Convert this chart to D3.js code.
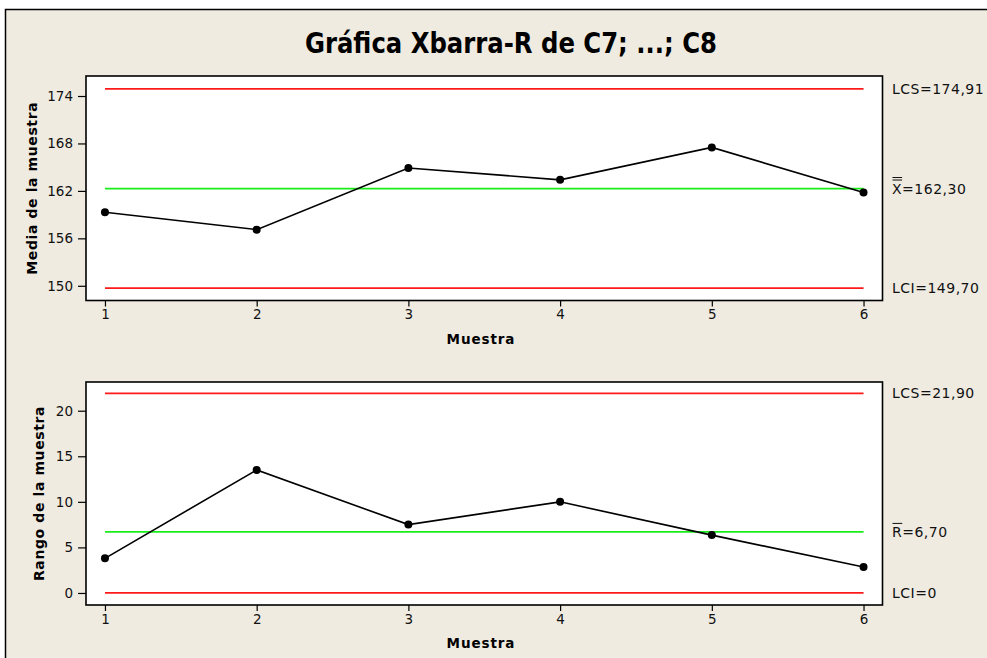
<!DOCTYPE html>
<html>
<head>
<meta charset="utf-8">
<script src="https://cdn.jsdelivr.net/npm/d3@7"></script>
<style>
  html, body { margin: 0; padding: 0; background: #ffffff; }
  svg { display: block; }
</style>
</head>
<body>
<svg id="chart" width="987" height="658"></svg>
<script>
// Subgroup numbers
const samples = [1, 2, 3, 4, 5, 6];
// Subgroup means (Xbar chart)
const means = [159.3, 157.1, 164.9, 163.4, 167.5, 161.8];
// Subgroup ranges (R chart)
const ranges = [3.8, 13.5, 7.5, 10.0, 6.35, 2.85];
// Control limits: [LCS, centre, LCI]
const xbarLimits = [174.91, 162.30, 149.70];
const rLimits = [21.90, 6.70, 0];
const xbarTicks = [150, 156, 162, 168, 174];
const rTicks = [0, 5, 10, 15, 20];
const xbarLimitLabels = ["LCS=174,91", "=162,30", "LCI=149,70"];
const rLimitLabels = ["LCS=21,90", "=6,70", "LCI=0"];

const svg = d3.select("#chart");
const FONT = "'DejaVu Sans', Verdana, sans-serif";
const BG = "#efebe1";

// page frame
svg.append("rect")
  .attr("x", 5.5).attr("y", 9.5).attr("width", 1000).attr("height", 700)
  .attr("fill", BG).attr("stroke", "#000").attr("stroke-width", 1.5);

svg.append("text")
  .attr("x", 511).attr("y", 53)
  .attr("text-anchor", "middle")
  .attr("font-family", "'Liberation Sans Narrow', 'DejaVu Sans Condensed', 'Liberation Sans', sans-serif")
  .attr("font-weight", "bold").attr("font-size", 29)
  .attr("textLength", 412).attr("lengthAdjust", "spacingAndGlyphs")
  .attr("fill", "#000")
  .text("Gráfica Xbarra-R de C7; ...; C8");

function panel(opts) {
  const { top, bottom, yDomain, ticks, values, limits, limitLabels, yLabel, yLabelX, barSymbol } = opts;
  const left = 86, right = 882.5;
  const x = d3.scaleLinear().domain([0.875, 6.125]).range([left, right]);
  const y = d3.scaleLinear().domain(yDomain).range([bottom, top]);
  const g = svg.append("g");

  g.append("rect")
    .attr("x", left).attr("y", top)
    .attr("width", right - left).attr("height", bottom - top)
    .attr("fill", "#fff").attr("stroke", "#000").attr("stroke-width", 1.6);

  // y axis
  const ya = g.append("g")
    .attr("transform", `translate(${left},0)`)
    .call(d3.axisLeft(y).tickValues(ticks).tickSize(8).tickPadding(5).tickSizeOuter(0));
  ya.select(".domain").remove();
  ya.selectAll("line").attr("stroke", "#000").attr("stroke-width", 1.2);
  ya.selectAll("text").attr("font-family", FONT).attr("font-size", 13.5).attr("fill", "#111");

  // x axis
  const xa = g.append("g")
    .attr("transform", `translate(0,${bottom})`)
    .call(d3.axisBottom(x).tickValues(samples).tickFormat(d3.format("d")).tickSize(6).tickPadding(3).tickSizeOuter(0));
  xa.select(".domain").remove();
  xa.selectAll("line").attr("stroke", "#000").attr("stroke-width", 1.2);
  xa.selectAll("text").attr("font-family", FONT).attr("font-size", 13.5).attr("fill", "#111");

  g.append("text")
    .attr("x", 481).attr("y", bottom + 43)
    .attr("text-anchor", "middle")
    .attr("font-family", FONT).attr("font-weight", "bold").attr("font-size", 13.5)
    .attr("letter-spacing", 0.9)
    .text("Muestra");

  g.append("text")
    .attr("transform", `translate(${yLabelX},${(top + bottom) / 2}) rotate(-90)`)
    .attr("text-anchor", "middle").attr("dy", "0.35em")
    .attr("font-family", FONT).attr("font-weight", "bold").attr("font-size", 14)
    .attr("letter-spacing", 0.6)
    .text(yLabel);

  // control limit lines
  const colors = ["#ff1a1a", "#1aee1a", "#ff1a1a"];
  limits.forEach((v, i) => {
    g.append("line")
      .attr("x1", x(samples[0])).attr("x2", x(samples[samples.length - 1]))
      .attr("y1", y(v)).attr("y2", y(v))
      .attr("stroke", colors[i]).attr("stroke-width", 1.8);
  });

  // limit labels
  limits.forEach((v, i) => {
    const t = g.append("text")
      .attr("x", 892).attr("y", y(v)).attr("dy", "0.36em")
      .attr("font-family", FONT).attr("font-size", 14).attr("letter-spacing", 0.5)
      .attr("fill", "#111");
    if (i === 1) {
      t.append("tspan").text(barSymbol);
      t.append("tspan").text(limitLabels[i]);
      const w = t.node().getSubStringLength(0, 1) - 0.5;
      const yy = y(v) - 8.5;
      const bars = barSymbol === "X" ? [0, 2.5] : [0];
      bars.forEach(off => {
        g.append("line")
          .attr("x1", 892.5).attr("x2", 892.5 + w)
          .attr("y1", yy - off).attr("y2", yy - off)
          .attr("stroke", "#111").attr("stroke-width", 1);
      });
    } else {
      t.text(limitLabels[i]);
    }
  });

  // data series
  const line = d3.line().x((d, i) => x(samples[i])).y(d => y(d));
  g.append("path").datum(values)
    .attr("d", line).attr("fill", "none")
    .attr("stroke", "#000").attr("stroke-width", 1.6);
  g.selectAll("circle.pt").data(values).enter().append("circle")
    .attr("class", "pt")
    .attr("cx", (d, i) => x(samples[i])).attr("cy", d => y(d))
    .attr("r", 4).attr("fill", "#000");
}

panel({
  top: 76, bottom: 300.5, yDomain: [148.14, 176.53], ticks: xbarTicks,
  values: means, limits: xbarLimits, limitLabels: xbarLimitLabels,
  yLabel: "Media de la muestra", yLabelX: 32, barSymbol: "X"
});
panel({
  top: 382, bottom: 605, yDomain: [-1.32, 23.15], ticks: rTicks,
  values: ranges, limits: rLimits, limitLabels: rLimitLabels,
  yLabel: "Rango de la muestra", yLabelX: 39, barSymbol: "R"
});
</script>
</body>
</html>
